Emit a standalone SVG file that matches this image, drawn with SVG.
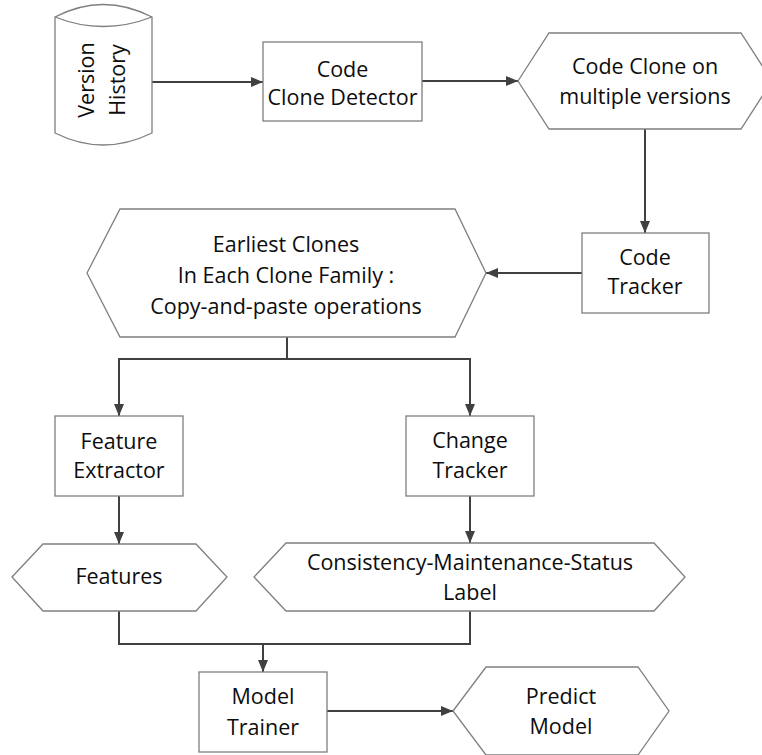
<svg xmlns="http://www.w3.org/2000/svg" width="762" height="755" viewBox="0 0 762 755">
  <style>
    .shape { fill: #ffffff; stroke: #7f7f7f; stroke-width: 1.3; }
    .label { font-family: "Open Sans", "Noto Sans", "DejaVu Sans", sans-serif; font-size: 21.5px; fill: #0d0d0d; text-anchor: middle; }
    .conn { fill: none; stroke: #404040; stroke-width: 2; }
  </style>
  <defs>
    <marker id="arrow" viewBox="0 0 12 10" refX="12" refY="5" markerWidth="12" markerHeight="10" markerUnits="userSpaceOnUse" orient="auto">
      <path d="M0,0 L12,5 L0,10 z" fill="#404040"/>
    </marker>
  </defs>
  <rect width="762" height="755" fill="#ffffff"/>

  <!-- connectors -->
  <g id="connectors">
    <path class="conn" d="M152,82 H263" marker-end="url(#arrow)"/>
    <path class="conn" d="M422,81 H518" marker-end="url(#arrow)"/>
    <path class="conn" d="M645,129 V233" marker-end="url(#arrow)"/>
    <path class="conn" d="M582,273 H486" marker-end="url(#arrow)"/>
    <path class="conn" d="M287,337 V359 H119 V416" marker-end="url(#arrow)"/>
    <path class="conn" d="M287,359 H470 V416" marker-end="url(#arrow)"/>
    <path class="conn" d="M119,496 V544" marker-end="url(#arrow)"/>
    <path class="conn" d="M470,496 V543" marker-end="url(#arrow)"/>
    <path class="conn" d="M119,611 V644 H263 V672" marker-end="url(#arrow)"/>
    <path class="conn" d="M470,611 V644 H263"/>
    <path class="conn" d="M327,711 H453" marker-end="url(#arrow)"/>
  </g>

  <!-- Version History (data store) -->
  <g id="version-history">
    <path class="shape" d="M55,17 Q103,-8 152,17 V133 Q103,157 55,133 Z"/>
    <path class="shape" fill="none" d="M55,17 Q103,36 152,17"/>
    <text class="label" transform="translate(94,80) rotate(-90)">Version</text>
    <text class="label" transform="translate(125,80) rotate(-90)">History</text>
  </g>

  <g id="code-clone-detector">
    <rect class="shape" x="263" y="42" width="159" height="79"/>
    <text class="label" x="342.5" y="77">Code</text>
    <text class="label" x="342.5" y="105">Clone Detector</text>
  </g>

  <g id="code-clone-versions">
    <polygon class="shape" points="518,81 549,33 741,33 772,81 741,129 549,129"/>
    <text class="label" x="645" y="74">Code Clone on</text>
    <text class="label" x="645" y="104">multiple versions</text>
  </g>

  <g id="code-tracker">
    <rect class="shape" x="582" y="233" width="127" height="80"/>
    <text class="label" x="645" y="265">Code</text>
    <text class="label" x="645" y="294">Tracker</text>
  </g>

  <g id="earliest-clones">
    <polygon class="shape" points="87,273 120,209 455,209 486,273 455,337 120,337"/>
    <text class="label" x="286" y="252">Earliest Clones</text>
    <text class="label" x="286" y="283">In Each Clone Family :</text>
    <text class="label" x="286" y="314">Copy-and-paste operations</text>
  </g>

  <g id="feature-extractor">
    <rect class="shape" x="55" y="416" width="128" height="80"/>
    <text class="label" x="119" y="449">Feature</text>
    <text class="label" x="119" y="478">Extractor</text>
  </g>

  <g id="change-tracker">
    <rect class="shape" x="406" y="416" width="128" height="80"/>
    <text class="label" x="470" y="448">Change</text>
    <text class="label" x="470" y="478">Tracker</text>
  </g>

  <g id="features">
    <polygon class="shape" points="12,577 43,544 196,544 227,577 196,611 43,611"/>
    <text class="label" x="119" y="584">Features</text>
  </g>

  <g id="status-label">
    <polygon class="shape" points="254,577 286,543 654,543 685,577 654,611 286,611"/>
    <text class="label" x="470" y="570">Consistency-Maintenance-Status</text>
    <text class="label" x="470" y="600">Label</text>
  </g>

  <g id="model-trainer">
    <rect class="shape" x="199" y="672" width="128" height="80"/>
    <text class="label" x="263" y="704">Model</text>
    <text class="label" x="263" y="735">Trainer</text>
  </g>

  <g id="predict-model">
    <polygon class="shape" points="453,711 486,667 638,667 669,711 638,755 486,755"/>
    <text class="label" x="561" y="704">Predict</text>
    <text class="label" x="561" y="734">Model</text>
  </g>
</svg>
